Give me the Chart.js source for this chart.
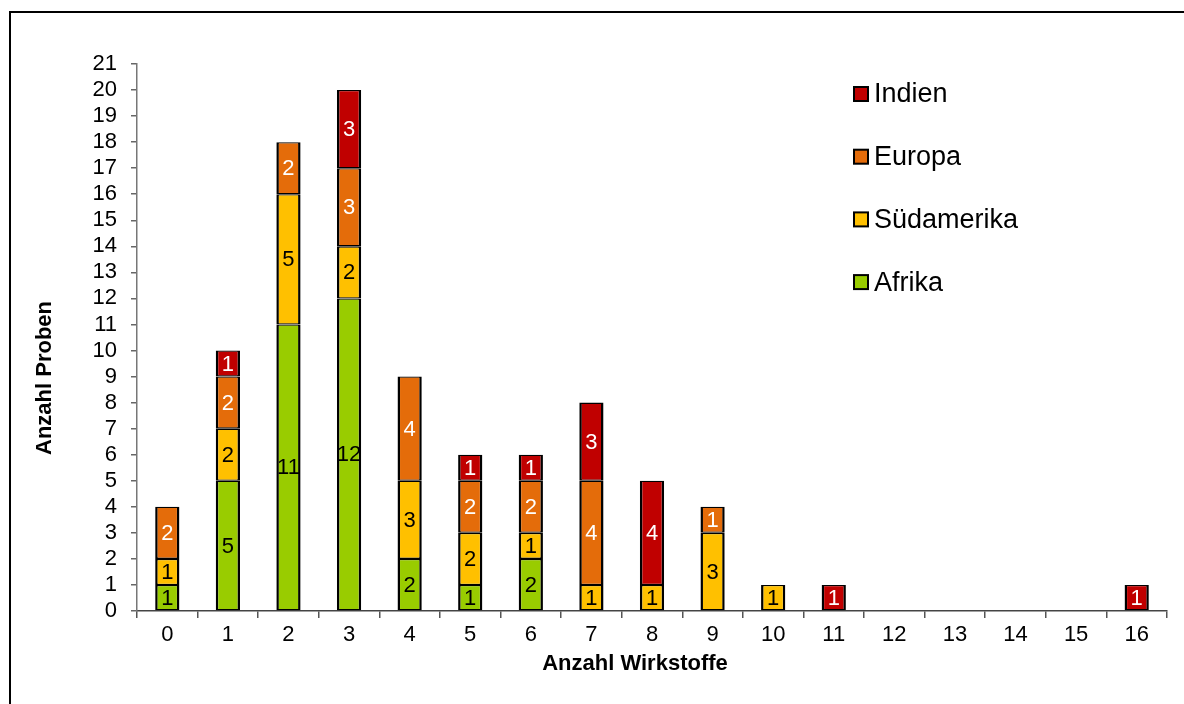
<!DOCTYPE html>
<html>
<head>
<meta charset="utf-8">
<script src="https://cdn.jsdelivr.net/npm/chart.js@4.4.1/dist/chart.umd.min.js"></script>
<style>
  html, body { margin: 0; padding: 0; background: #fff; }
  #wrap { position: relative; width: 1184px; height: 704px; }
  #frame { position: absolute; left: 9px; top: 11px; right: -5px; bottom: -5px;
           border-left: 2px solid #000; border-top: 2px solid #000; pointer-events: none; }
</style>
</head>
<body>
<div id="wrap">
  <canvas id="grafica" width="1184" height="704"></canvas>
  <div id="frame"></div>
</div>
<script>
// Anzahl Wirkstoffe (Kategorien)
const kategorien = ['0', '1', '2', '3', '4', '5', '6', '7', '8', '9', '10', '11', '12', '13', '14', '15', '16'];

// Anzahl Proben je Region
const afrika      = [1, 5, 11, 12, 2, 1, 2, 0, 0, 0, 0, 0, 0, 0, 0, 0, 0];
const suedamerika = [1, 2, 5, 2, 3, 2, 1, 1, 1, 3, 1, 0, 0, 0, 0, 0, 0];
const europa      = [2, 2, 2, 3, 4, 2, 2, 4, 0, 1, 0, 0, 0, 0, 0, 0, 0];
const indien      = [0, 1, 0, 3, 0, 1, 1, 3, 4, 0, 0, 1, 0, 0, 0, 0, 1];

const serien = ['Afrika', 'Südamerika', 'Europa', 'Indien'];
const farben = ['#99CC00', '#FFC000', '#E46C0A', '#C00000'];
const textFarben = ['#000', '#000', '#fff', '#fff'];

const schrift = "'Liberation Sans', Arial, sans-serif";

// Werte in den Balken
const wertePlugin = {
    id: 'werte',
    afterDatasetsDraw(chart) {
        const ctx = chart.ctx;
        ctx.save();
        ctx.font = '22px ' + schrift;
        ctx.textAlign = 'center';
        ctx.textBaseline = 'middle';
        chart.data.datasets.forEach((ds, i) => {
            const meta = chart.getDatasetMeta(i);
            meta.data.forEach((bar, j) => {
                const v = ds.data[j];
                if (!v) return;
                ctx.fillStyle = textFarben[i];
                ctx.fillText(String(v), bar.x, (bar.y + bar.base) / 2 + 1);
            });
        });
        ctx.restore();
    }
};

// Legende rechts oben und Achsentitel
const legendePlugin = {
    id: 'legende',
    afterDraw(chart) {
        const ctx = chart.ctx;
        ctx.save();
        ctx.font = '27px ' + schrift;
        ctx.textBaseline = 'middle';
        ctx.textAlign = 'left';
        const reihen = chart.data.datasets.slice().reverse();
        reihen.forEach((ds, k) => {
            const y = 94 + k * 62.7;
            ctx.fillStyle = ds.backgroundColor;
            ctx.fillRect(854, y - 7, 14, 14);
            ctx.strokeStyle = '#000';
            ctx.lineWidth = 2;
            ctx.strokeRect(854, y - 7, 14, 14);
            ctx.fillStyle = '#000';
            ctx.fillText(ds.label, 874, y + 1);
        });

        ctx.font = 'bold 22px ' + schrift;
        ctx.textAlign = 'center';
        ctx.fillText('Anzahl Wirkstoffe', 635, 664);
        ctx.translate(45, 378);
        ctx.rotate(-Math.PI / 2);
        ctx.fillText('Anzahl Proben', 0, 0);
        ctx.restore();
    }
};

const ctx = document.getElementById('grafica').getContext('2d');
const myChart = new Chart(ctx, {
    type: 'bar',
    data: {
        labels: kategorien,
        datasets: [afrika, suedamerika, europa, indien].map((werte, i) => ({
            label: serien[i],
            data: werte.map(v => v || null),
            backgroundColor: farben[i],
            borderColor: '#000',
            borderWidth: { left: 2.5, right: 2.5, top: 1.3, bottom: 1.3 },
            borderSkipped: false,
            inflateAmount: 0,
            barPercentage: 0.8,
            categoryPercentage: 0.5
        }))
    },
    options: {
        responsive: false,
        animation: false,
        layout: { padding: { top: 64, right: 17, left: 0, bottom: 0 } },
        scales: {
            x: {
                stacked: true,
                afterFit(scale) { scale.height = 93; },
                grid: {
                    drawOnChartArea: false,
                    tickLength: 7,
                    color: '#555',
                    lineWidth: 1.5
                },
                border: { color: '#444', width: 1.5 },
                ticks: {
                    color: '#000',
                    padding: 4,
                    autoSkip: false,
                    maxRotation: 0,
                    font: { family: schrift, size: 22 }
                }
            },
            y: {
                stacked: true,
                min: 0,
                max: 21,
                afterFit(scale) { scale.width = 137; },
                grid: {
                    drawOnChartArea: false,
                    tickLength: 6,
                    color: '#666',
                    lineWidth: 1.5
                },
                border: { color: '#777', width: 1.5 },
                ticks: {
                    stepSize: 1,
                    autoSkip: false,
                    color: '#000',
                    padding: 14,
                    font: { family: schrift, size: 22, lineHeight: 1 }
                }
            }
        },
        plugins: {
            legend: { display: false },
            tooltip: { enabled: false }
        }
    },
    plugins: [wertePlugin, legendePlugin]
});
</script>
</body>
</html>
